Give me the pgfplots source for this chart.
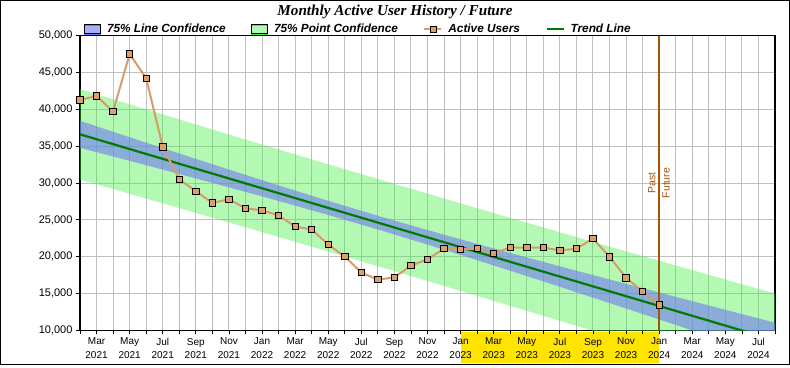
\documentclass[border=0pt]{standalone}
\usepackage{fontspec}
\setmainfont{Liberation Sans}
\newfontfamily\titlefam{Liberation Serif}
\usepackage{pgfplots}
\pgfplotsset{compat=1.18}
\definecolor{greenband}{RGB}{65,240,65}
\definecolor{blueband}{RGB}{112,122,242}
\definecolor{usercol}{RGB}{214,155,105}
\definecolor{markfill}{RGB}{218,160,105}
\definecolor{trendcol}{RGB}{0,122,0}
\definecolor{pastcol}{RGB}{160,85,10}
\definecolor{hl}{RGB}{255,228,0}
\definecolor{gridcol}{RGB}{192,192,192}
\begin{document}
\begin{tikzpicture}
\useasboundingbox (0,0) rectangle (790pt,367pt);
% highlight of the last year under the axis (Jan 2023 -- Jan 2024)
\fill[hl] (460.6pt,3.7pt) rectangle (659.2pt,35.3pt);
\begin{axis}[
  at={(80pt,36.5pt)}, anchor=south west,
  scale only axis, width=695pt, height=295pt,
  xmin=0, xmax=42, ymin=10000, ymax=50000,
  clip mode=individual,
  xtick={1,3,...,41},
  minor xtick={0,...,42},
  xticklabels={{Mar\\2021},{May\\2021},{Jul\\2021},{Sep\\2021},{Nov\\2021},{Jan\\2022},{Mar\\2022},{May\\2022},{Jul\\2022},{Sep\\2022},{Nov\\2022},{Jan\\2023},{Mar\\2023},{May\\2023},{Jul\\2023},{Sep\\2023},{Nov\\2023},{Jan\\2024},{Mar\\2024},{May\\2024},{Jul\\2024}},
  ytick={10000,15000,...,50000},
  scaled y ticks=false,
  /pgf/number format/assume math mode=true,
  yticklabel style={/pgf/number format/1000 sep={,}, font=\fontsize{11}{13}\selectfont},
  xticklabel style={align=center, font=\fontsize{10}{13.5}\selectfont},
  xtick pos=bottom, ytick pos=left,
  tick align=outside, major tick length=4pt, minor tick length=4pt,
  tick style={black, line width=0.8pt},
  xmajorgrids, xminorgrids, ymajorgrids,
  major grid style={gridcol, line width=1pt},
  minor grid style={gridcol, line width=1pt},
  axis line style={black, line width=1.2pt},
  legend columns=4,
  legend cell align=left,
  legend style={at={(0.0061,1.021)}, anchor=west, draw=none, fill=none,
    inner sep=0pt, outer sep=0pt,
    font=\fontsize{11.8}{14}\selectfont\bfseries\itshape,
    nodes={inner sep=0pt},
    /tikz/every odd column/.append style={column sep=6pt},
    /tikz/every even column/.append style={column sep=25.5pt}},
]
% 75% point confidence band (upper edge, then lower edge backwards)
\addplot[fill=greenband, fill opacity=0.4, draw=none, forget plot] coordinates {
(0,42733) (3,40669) (6,38618) (9,36579) (12,34553) (15,32540) (18,30541) (21,28554) (24,26582) (27,24622) (30,22675) (33,20741) (36,18819) (39,16908) (42,15009)
(42,2331) (39,4422) (36,6501) (33,8569) (30,10625) (27,12668) (24,14698) (21,16716) (18,18719) (15,20710) (12,22687) (9,24651) (6,26602) (3,28541) (0,30467)} -- cycle;

% 75% line confidence band
\addplot[fill=blueband, fill opacity=0.6, draw=none, forget plot] coordinates {
(0,38428) (3,36208) (6,34002) (9,31821) (12,29676) (15,27585) (18,25564) (21,23620) (24,21741) (27,19910) (30,18110) (33,16331) (36,14566) (39,12810) (42,11061)
(42,6279) (39,8520) (36,10754) (33,12979) (30,15190) (27,17380) (24,19539) (21,21650) (18,23696) (15,25665) (12,27564) (9,29409) (6,31218) (3,33002) (0,34772)} -- cycle;

% trend line
\addplot[trendcol, line width=2.2pt, forget plot] coordinates {(0,36600) (42,8670)};

% past / future divider
\addplot[pastcol, line width=2.5pt, forget plot] coordinates {(35,10000) (35,50000)};

% active users
\addplot[usercol, line width=2pt, mark=square*, mark size=3.2pt,
  mark options={fill=markfill, draw=black, line width=0.8pt}, forget plot] coordinates {
(0,41250) (1,41800) (2,39700) (3,47500) (4,44200) (5,34900) (6,30500) (7,28900)
(8,27300) (9,27800) (10,26550) (11,26300) (12,25600) (13,24100) (14,23700) (15,21650)
(16,20050) (17,17850) (18,16900) (19,17200) (20,18800) (21,19650) (22,21100) (23,21000)
(24,21100) (25,20450) (26,21250) (27,21250) (28,21250) (29,20850) (30,21100) (31,22450)
(32,20000) (33,17150) (34,15300) (35,13450)};

\node[rotate=90, anchor=base, inner sep=0pt, text=pastcol, font=\fontsize{10.5}{12}\selectfont] at ([xshift=-3.7pt]axis cs:35,30000) {Past};
\node[rotate=90, anchor=north, inner sep=0pt, text=pastcol, font=\fontsize{10.5}{12}\selectfont] at ([xshift=3pt]axis cs:35,30000) {Future};

\addlegendimage{legend image code/.code={\fill[blueband, fill opacity=0.6] (0pt,-4.5pt) rectangle (16pt,4.5pt); \draw[black, line width=0.8pt] (0pt,-4.5pt) rectangle (16pt,4.5pt);}}
\addlegendentry{75\% Line Confidence}
\addlegendimage{legend image code/.code={\fill[greenband, fill opacity=0.4] (0pt,-4.5pt) rectangle (16pt,4.5pt); \draw[black, line width=0.8pt] (0pt,-4.5pt) rectangle (16pt,4.5pt);}}
\addlegendentry{75\% Point Confidence}
\addlegendimage{usercol, line width=2pt, mark=square*, mark size=3pt, mark options={fill=markfill, draw=black, line width=0.8pt},
  legend image code/.code={\draw[mark repeat=2, mark phase=2] plot coordinates {(0pt,0pt) (8.5pt,0pt) (17pt,0pt)};}}
\addlegendentry{Active Users}
\addlegendimage{trendcol, line width=2.2pt,
  legend image code/.code={\draw plot coordinates {(0pt,0pt) (17pt,0pt)};}}
\addlegendentry{Trend Line}
\end{axis}
\node[anchor=base, inner sep=0pt, font=\fontsize{15.2}{17}\titlefam\bfseries\itshape] at (395pt,351.3pt) {Monthly Active User History / Future};
\draw[line width=1.3pt] (0.65pt,2.7pt) rectangle (789.3pt,366.35pt);
\end{tikzpicture}
\end{document}
